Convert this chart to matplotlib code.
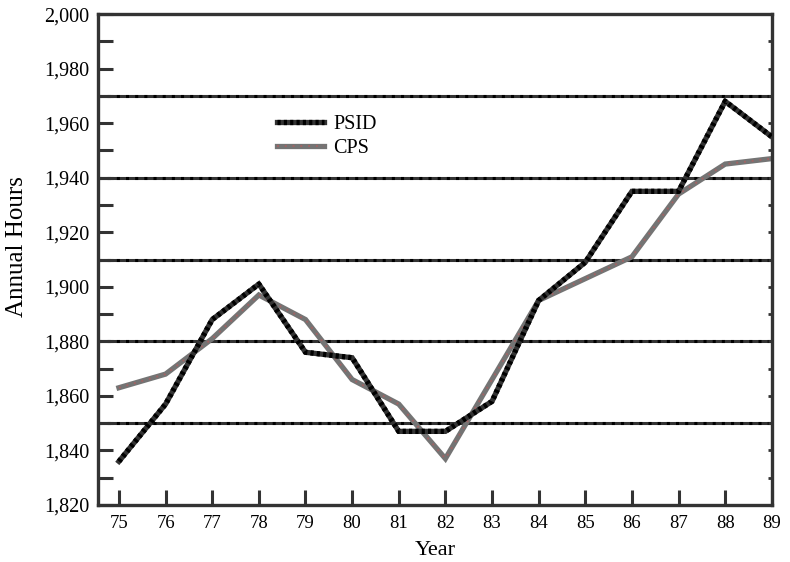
import numpy as np
import matplotlib
matplotlib.use("Agg")
import matplotlib.pyplot as plt
from matplotlib.ticker import MultipleLocator, FuncFormatter

years = [75, 76, 77, 78, 79, 80, 81, 82, 83, 84, 85, 86, 87, 88, 89]
psid = [1836, 1857, 1888, 1901, 1876, 1874, 1847, 1847, 1858, 1895, 1909, 1935, 1935, 1968, 1955]
cps = [1863, 1868, 1881, 1897, 1888, 1866, 1857, 1837, 1866, 1895, 1903, 1911, 1934, 1945, 1947]
grid_vals = [1850, 1880, 1910, 1940, 1970]

plt.rcParams['font.family'] = ['Liberation Serif', 'DejaVu Serif']

fig = plt.figure(figsize=(7.9, 5.62), dpi=100)
ax = fig.add_axes([0.124, 0.1014, 0.853, 0.8736])

dark = '#333333'
for g in grid_vals:
    ax.axhline(g, color=dark, lw=2.2, zorder=1)
    ax.axhline(g, color='black', lw=2.2, ls=(0, (1, 2)), zorder=1)

# PSID: dark base with black dots
p1, = ax.plot(years, psid, color=dark, lw=3.8, solid_joinstyle='miter', zorder=3)
p2, = ax.plot(years, psid, color='black', lw=3.8, ls=(0, (0.6, 0.6)), zorder=3)
# CPS: gray base with reddish dots
c1, = ax.plot(years, cps, color='#747474', lw=3.8, solid_joinstyle='miter', zorder=2)
c2, = ax.plot(years, cps, color='#a06464', lw=1.4, ls=(0, (1, 3)), zorder=2)

ax.set_xlim(74.55, 89)
ax.set_ylim(1820, 2000)
ax.set_xticks(years)
ax.set_xticklabels([str(y) for y in years])
ax.yaxis.set_major_locator(MultipleLocator(20))
ax.yaxis.set_minor_locator(MultipleLocator(10))
ax.yaxis.set_major_formatter(FuncFormatter(lambda v, p: f"{int(v):,}"))

ax.tick_params(axis='x', direction='in', length=11, width=2.2, color=dark,
               labelsize=13.5, pad=7, top=False)
ax.tick_params(axis='y', which='both', direction='in', length=11, width=2.2,
               color=dark, labelsize=14.5, pad=6, right=False)

# small inward marks on the right spine
ax2 = ax.twinx()
ax2.set_ylim(1820, 2000)
ax2.yaxis.set_major_locator(MultipleLocator(10))
ax2.tick_params(axis='y', direction='in', length=3, width=2, color=dark, labelright=False)
for s in ax2.spines.values():
    s.set_visible(False)

for s in ax.spines.values():
    s.set_color(dark)
    s.set_linewidth(2.4)

ax.set_xlabel('Year', fontsize=16, labelpad=7)
ax.set_ylabel('Annual Hours', fontsize=18)
ax.yaxis.set_label_coords(-0.104, 0.527)

ax.legend([(p1, p2), (c1, c2)], ['PSID', 'CPS'], loc='center left',
          bbox_to_anchor=(0.266, 0.75), frameon=False, fontsize=14.5,
          handlelength=2.3, handletextpad=0.5, labelspacing=0.25,
          borderpad=0, borderaxespad=0)

fig.savefig('out.png', dpi=100)
